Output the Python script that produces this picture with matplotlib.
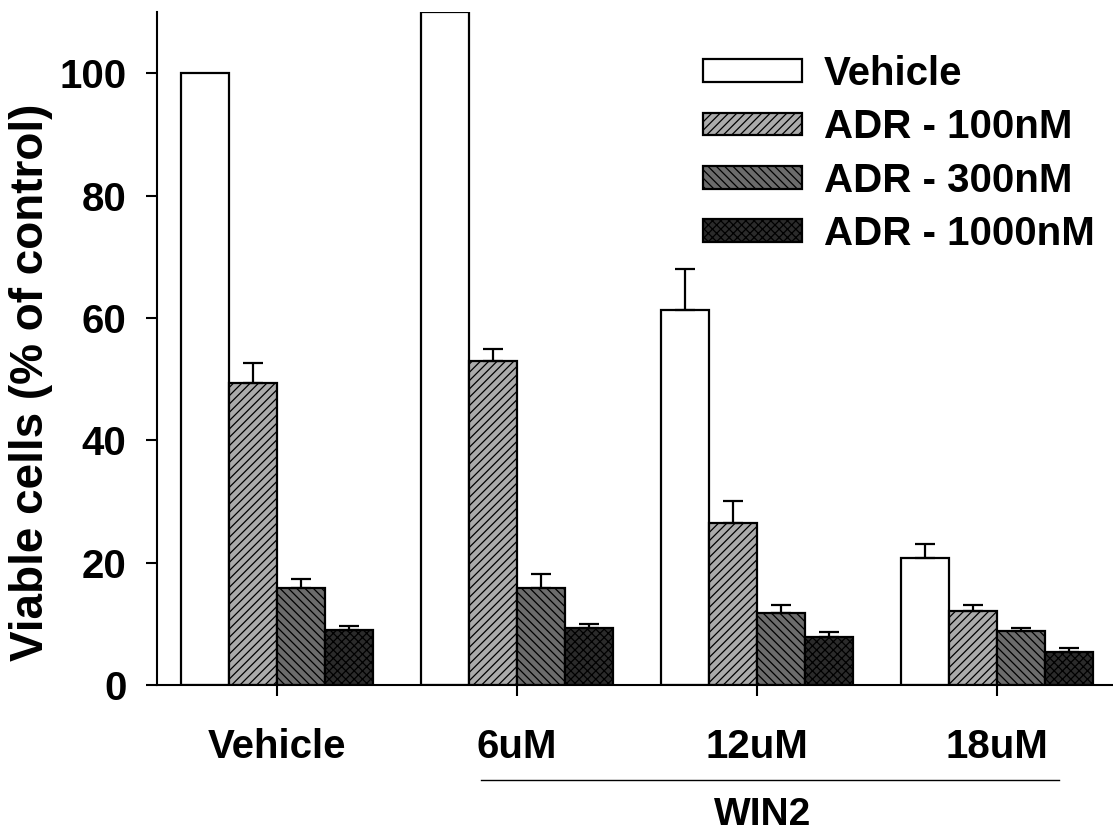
import matplotlib
matplotlib.use("Agg")
import matplotlib.pyplot as plt
import numpy as np

groups = ["Vehicle", "6uM", "12uM", "18uM"]
series = ["Vehicle", "ADR - 100nM", "ADR - 300nM", "ADR - 1000nM"]
vehicle = [100.0, 110.0, 61.3, 20.8]
vehicle_err = [0.0, 0.0, 6.7, 2.3]
adr100 = [49.3, 53.0, 26.4, 12.1]
adr100_err = [3.3, 1.9, 3.6, 1.0]
adr300 = [15.9, 15.9, 11.8, 8.85]
adr300_err = [1.4, 2.3, 1.3, 0.45]
adr1000 = [9.0, 9.3, 7.9, 5.4]
adr1000_err = [0.7, 0.7, 0.8, 0.7]
yticks = [0, 20, 40, 60, 80, 100]
bracket_label = "WIN2"

plt.rcParams['font.family'] = ['Liberation Sans', 'DejaVu Sans']
plt.rcParams['font.weight'] = 'bold'
plt.rcParams['hatch.linewidth'] = 0.9
plt.rcParams['hatch.color'] = 'black'

W, H = 1113, 836
fig = plt.figure(figsize=(W / 100, H / 100), dpi=100)
ax_left, ax_right, ax_top, ax_bottom = 157, 1117, 12, 685
ax = fig.add_axes([ax_left / W, (H - ax_bottom) / H, (ax_right - ax_left) / W, (ax_bottom - ax_top) / H])

x = np.arange(len(groups))
bw = 0.2
data = [vehicle, adr100, adr300, adr1000]
errs = [vehicle_err, adr100_err, adr300_err, adr1000_err]
fills = ['white', '#ababab', '#6c6c6c', '#2b2b2b']
hatches = [None, '////', '\\\\\\\\', 'xxxx']
handles = []
for i in range(4):
    pos = x + (i - 1.5) * bw
    b = ax.bar(pos, data[i], width=bw, color=fills[i], edgecolor='black',
               linewidth=1.6, hatch=hatches[i], label=series[i], zorder=2)
    handles.append(b)
    e = np.array(errs[i])
    mask = e > 0
    ax.errorbar(pos[mask], np.array(data[i])[mask], yerr=[np.zeros(mask.sum()), e[mask]],
                fmt='none', ecolor='black', elinewidth=1.6, capsize=7.5, capthick=1.6, zorder=3)

ax.set_xlim(-0.5, 3.5)
ax.set_ylim(0, 110)
ax.set_yticks(yticks)
ax.set_xticks(x)
ax.set_xticklabels(groups)
ax.spines['top'].set_visible(False)
ax.spines['right'].set_visible(False)
for s in ['left', 'bottom']:
    ax.spines[s].set_linewidth(1.5)
ax.tick_params(axis='both', direction='out', length=8, width=1.5, labelsize=29)
ax.tick_params(axis='x', pad=23)
ax.tick_params(axis='y', pad=14)
for lab in ax.get_xticklabels() + ax.get_yticklabels():
    lab.set_fontweight('bold')

fig.text(31 / W, 1 - 382 / H, "Viable cells (% of control)", rotation=90,
         ha='center', va='center', fontsize=33, fontweight='bold')

# WIN2 bracket
ax.plot([0.85, 3.26], [-15.5, -15.5], color='black', linewidth=1.0, clip_on=False)
fig.text(763 / W, 1 - 825 / H, bracket_label, ha='center', va='baseline', fontsize=28, fontweight='bold')

leg = ax.legend(handles=handles, labels=series, loc='upper left',
                bbox_to_anchor=(703 / W, 1 - 55 / H), bbox_transform=fig.transFigure,
                frameon=False, fontsize=29, handlelength=2.45, handleheight=0.5,
                handletextpad=0.55, labelspacing=0.38, borderpad=0, borderaxespad=0)
for t in leg.get_texts():
    t.set_fontweight('bold')

fig.savefig("out.png", dpi=100)
